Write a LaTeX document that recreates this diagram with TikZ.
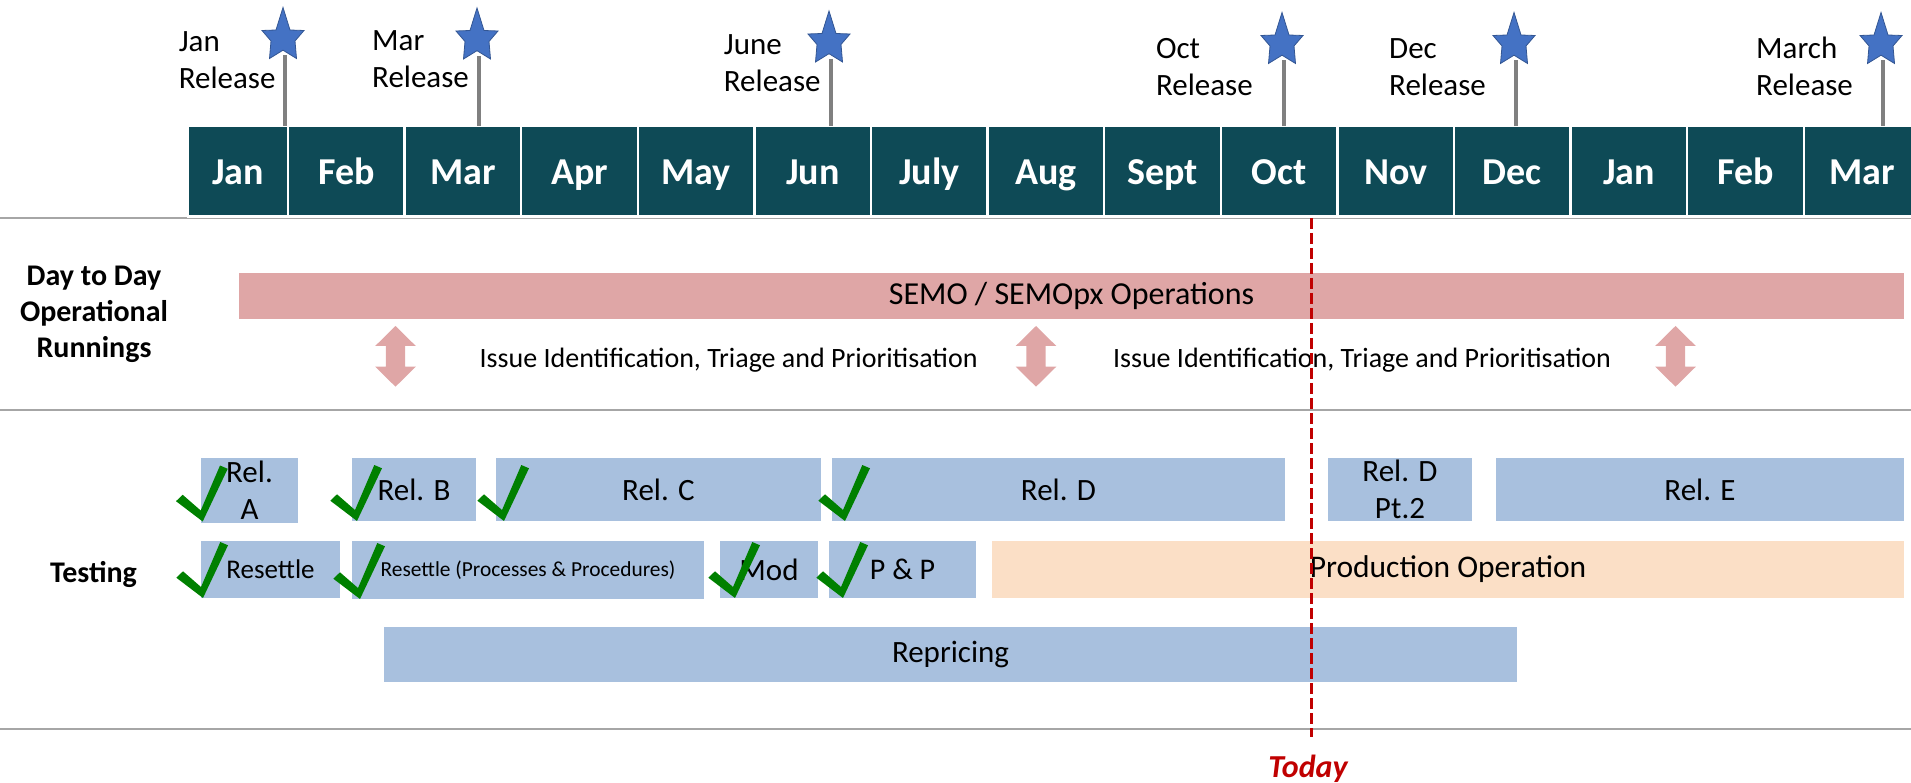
\documentclass[tikz,border=0pt]{standalone}
\usepackage{fontspec}
\setmainfont{Carlito}
\definecolor{monthteal}{RGB}{14,74,86}
\definecolor{opspink}{RGB}{223,166,166}
\definecolor{testblue}{RGB}{168,192,222}
\definecolor{prodpeach}{RGB}{251,223,198}
\definecolor{tickgreen}{RGB}{0,128,0}
\definecolor{todayred}{RGB}{192,0,0}
\definecolor{rulegray}{RGB}{166,166,166}
\definecolor{polegray}{RGB}{128,128,128}
\definecolor{starblue}{RGB}{68,114,196}
\tikzset{
  month/.style={fill=monthteal,draw=white,line width=2.5pt,text=white,inner sep=0pt,
    minimum height=91pt,text height=27pt,text depth=0pt,font=\fontsize{38}{45}\selectfont\bfseries},
  release/.style={align=left,inner sep=0pt,font=\fontsize{31}{37}\selectfont},
  rowhead/.style={align=center,inner sep=0pt,font=\fontsize{30}{36}\selectfont\bfseries},
  issue/.style={inner sep=0pt,font=\fontsize{28}{33}\selectfont},
  bar/.style={inner sep=0pt,align=center,font=\fontsize{31}{37}\selectfont},
  testbar/.style={bar,fill=testblue},
  rule/.style={rulegray,line width=2.5pt},
  todayline/.style={todayred,line width=3.5pt,dash pattern=on 11pt off 4pt},
  donetick/.pic={\fill[tickgreen] (0,0) -- (-26.7,-20.3) -- (-20,-26.7) -- (-2,-11) -- (17.3,-56) -- (25,-52.7) -- cycle;}
}
\begin{document}
\begin{tikzpicture}[x=1pt,y=-1pt]
\useasboundingbox (0,0) rectangle (1911,783);
\clip (0,0) rectangle (1911,783);

\draw[rule] (0,218) -- (1911,218);
\draw[rule] (0,410) -- (1911,410);
\draw[rule] (0,729) -- (1911,729);

\node[month,minimum width=100pt] (m0) at (238,171) {Jan};
\foreach \m [count=\i] in {Feb,Mar,Apr,May,Jun,July,Aug,Sept,Oct,Nov,Dec,Jan,Feb,Mar}{
\node[month,minimum width=116.6pt] (m\i) at ({288+116.6*(\i-0.5)},171) {\m};
}

\foreach \x/\sy/\lab/\lx/\ly [count=\k] in {285/7.5/Jan/178.6/88.3,479/8/Mar/372/88,831/11/June/723.7/91.7,1284/12.5/Oct/1155.8/95.7,1516/12.5/Dec/1389/96,1883/12.5/March/1756/96}{
\draw[polegray,line width=3.5pt] ({\x},{\sy+48}) -- (\x,126);
\begin{scope}[shift={({\x-2},\sy)}]
\fill[starblue,draw=starblue!75!black,line width=0.8pt] (0,0) -- (7,22.5) -- (21,23) -- (12,33.5) -- (13.5,51) -- (0,42.7)
  -- (-13.5,51) -- (-12,33.5) -- (-21,23) -- (-7,22.5) -- cycle;
\end{scope}
\node[release,anchor=base west] (rl\k) at (\lx,\ly) {\lab\\Release};
}

\node[rowhead,anchor=base] (ops) at (94,358) {Day to Day\\Operational\\Runnings};
\node[bar,fill=opspink,minimum width=1665pt,minimum height=46pt,font=\fontsize{32}{38}\selectfont] (semo) at (1071.5,296) {SEMO / SEMOpx Operations};
\foreach \x in {395.5,1036,1675.5}{
\fill[opspink] (\x,326) -- ++(20.3,20) -- ++(-10.6,0) -- ++(0,20.7) -- ++(10.6,0) -- (\x,386.7)
  -- ++(-20.3,-20) -- ++(10.6,0) -- ++(0,-20.7) -- ++(-10.6,0) -- cycle;
}
\node[issue,anchor=base] (issue1) at (728.6,368) {Issue Identification, Triage and Prioritisation};
\node[issue,anchor=base] (issue2) at (1362,367) {Issue Identification, Triage and Prioritisation};

\node[rowhead,anchor=base] (testing) at (93.5,582) {Testing};
\node[testbar,minimum width=97pt,minimum height=65pt] (rela) at (249.5,490.5) {Rel.\\A};
\node[testbar,minimum width=124pt,minimum height=63pt] (relb) at (414,489.5) {Rel. B};
\node[testbar,minimum width=325pt,minimum height=63pt] (relc) at (658.5,489.5) {Rel. C};
\node[testbar,minimum width=453pt,minimum height=63pt] (reld) at (1058.5,489.5) {Rel. D};
\node[testbar,minimum width=144pt,minimum height=63pt] (reldtwo) at (1400,489.5) {Rel. D\\Pt.2};
\node[testbar,minimum width=408pt,minimum height=63pt] (rele) at (1700,489.5) {Rel. E};
\node[testbar,minimum width=139pt,minimum height=57pt,font=\fontsize{27}{33}\selectfont] (resettle) at (270.5,569.5) {Resettle};
\node[testbar,minimum width=352pt,minimum height=58pt,font=\fontsize{21.4}{26}\selectfont] (resettlepp) at (528,570) {Resettle (Processes \& Procedures)};
\node[testbar,minimum width=98pt,minimum height=57pt] (mod) at (769,569.5) {Mod};
\node[testbar,minimum width=147pt,minimum height=57pt,font=\fontsize{30}{36}\selectfont] (pp) at (902.5,569.5) {P \& P};
\node[bar,fill=prodpeach,minimum width=912pt,minimum height=57pt,font=\fontsize{31.5}{38}\selectfont] (prod) at (1448,569.5) {Production Operation};
\node[testbar,minimum width=1133pt,minimum height=55pt] (repricing) at (950.5,654.5) {Repricing};

\foreach \p in {(202.7,521.5),(357,521),(504,521),(845,521),(203,598),(360,599),(735,598),(843,598)}{
\pic at \p {donetick};
}

\coordinate (todaytop) at (1311.5,218);
\coordinate (todaybot) at (1311.5,737);
\draw[todayline] (todaytop) -- (todaybot);
\node[anchor=base,inner sep=0pt,text=todayred,font=\fontsize{32}{38}\selectfont\bfseries\itshape] (today) at (1308,777) {Today};
\end{tikzpicture}
\end{document}
